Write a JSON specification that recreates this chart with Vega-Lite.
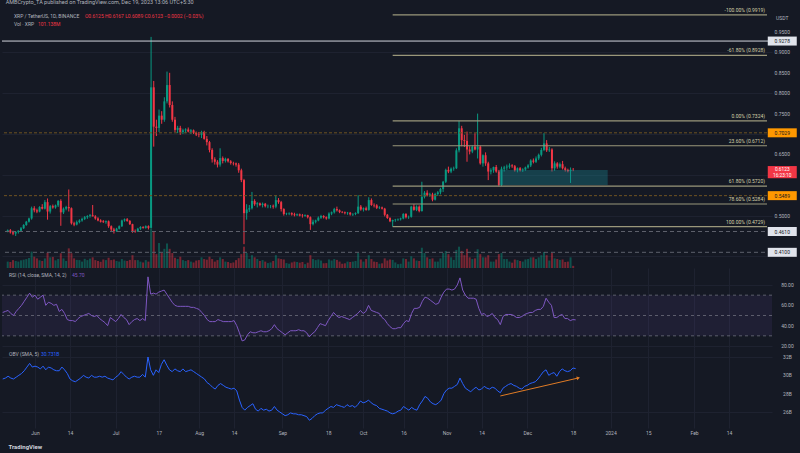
{
"$schema":"https://vega.github.io/schema/vega-lite/v6.json",
"background":"#151924",
"padding":{"left":0,"top":0,"right":0,"bottom":6},
"spacing":0,
"bounds":"flush",
"config":{"font":"Roboto","view":{"stroke":null},"title":{"fontSize":5.5,"fontWeight":"normal","color":"#b2b5be","anchor":"start","offset":2,"dx":5},"axis":{"labelOverlap":false}},
"title":{"text":"AMBCrypto_TA published on TradingView.com, Dec 19, 2023 13:06 UTC+5:30"},
"datasets":{
"px":[
{"d":"2023-05-20","o":0.462,"h":0.466,"l":0.459,"c":0.464,"v":300,"r":53,"b":29.6},
{"d":"2023-05-21","o":0.464,"h":0.467,"l":0.456,"c":0.459,"v":280,"r":54,"b":29.7},
{"d":"2023-05-22","o":0.459,"h":0.463,"l":0.452,"c":0.456,"v":370,"r":55,"b":29.9},
{"d":"2023-05-23","o":0.456,"h":0.462,"l":0.45,"c":0.46,"v":330,"r":52,"b":29.7},
{"d":"2023-05-24","o":0.46,"h":0.464,"l":0.456,"c":0.463,"v":300,"r":50,"b":29.6},
{"d":"2023-05-25","o":0.463,"h":0.472,"l":0.461,"c":0.469,"v":360,"r":54,"b":29.8},
{"d":"2023-05-26","o":0.469,"h":0.479,"l":0.467,"c":0.477,"v":390,"r":57,"b":30.0},
{"d":"2023-05-27","o":0.477,"h":0.487,"l":0.475,"c":0.485,"v":420,"r":60,"b":30.2},
{"d":"2023-05-28","o":0.485,"h":0.495,"l":0.483,"c":0.493,"v":470,"r":64,"b":30.5},
{"d":"2023-05-29","o":0.493,"h":0.522,"l":0.49,"c":0.518,"v":770,"r":68,"b":30.9},
{"d":"2023-05-30","o":0.518,"h":0.523,"l":0.508,"c":0.513,"v":530,"r":72,"b":31.3},
{"d":"2023-05-31","o":0.513,"h":0.517,"l":0.506,"c":0.51,"v":450,"r":68,"b":30.9},
{"d":"2023-06-01","o":0.51,"h":0.523,"l":0.508,"c":0.521,"v":360,"r":70,"b":31.0},
{"d":"2023-06-02","o":0.521,"h":0.528,"l":0.515,"c":0.517,"v":330,"r":66,"b":30.9},
{"d":"2023-06-03","o":0.517,"h":0.538,"l":0.515,"c":0.533,"v":450,"r":68,"b":30.7},
{"d":"2023-06-04","o":0.533,"h":0.542,"l":0.49,"c":0.51,"v":720,"r":70,"b":31.0},
{"d":"2023-06-05","o":0.51,"h":0.526,"l":0.505,"c":0.523,"v":500,"r":60,"b":30.6},
{"d":"2023-06-06","o":0.523,"h":0.527,"l":0.517,"c":0.52,"v":520,"r":63,"b":30.9},
{"d":"2023-06-07","o":0.52,"h":0.527,"l":0.517,"c":0.525,"v":360,"r":62,"b":30.8},
{"d":"2023-06-08","o":0.525,"h":0.538,"l":0.521,"c":0.536,"v":420,"r":60,"b":30.6},
{"d":"2023-06-09","o":0.536,"h":0.54,"l":0.475,"c":0.508,"v":690,"r":61,"b":30.5},
{"d":"2023-06-10","o":0.508,"h":0.52,"l":0.504,"c":0.517,"v":450,"r":54,"b":30.5},
{"d":"2023-06-11","o":0.517,"h":0.524,"l":0.513,"c":0.521,"v":330,"r":56,"b":30.9},
{"d":"2023-06-12","o":0.521,"h":0.564,"l":0.51,"c":0.518,"v":920,"r":52,"b":30.6},
{"d":"2023-06-13","o":0.518,"h":0.52,"l":0.478,"c":0.481,"v":690,"r":46,"b":30.2},
{"d":"2023-06-14","o":0.481,"h":0.485,"l":0.474,"c":0.478,"v":450,"r":45,"b":29.6},
{"d":"2023-06-15","o":0.478,"h":0.488,"l":0.476,"c":0.484,"v":380,"r":45,"b":29.4},
{"d":"2023-06-16","o":0.484,"h":0.491,"l":0.481,"c":0.488,"v":370,"r":44,"b":29.3},
{"d":"2023-06-17","o":0.488,"h":0.495,"l":0.485,"c":0.492,"v":300,"r":47,"b":29.5},
{"d":"2023-06-18","o":0.492,"h":0.499,"l":0.489,"c":0.496,"v":430,"r":49,"b":29.7},
{"d":"2023-06-19","o":0.496,"h":0.501,"l":0.492,"c":0.499,"v":370,"r":50,"b":30.0},
{"d":"2023-06-20","o":0.499,"h":0.504,"l":0.495,"c":0.501,"v":440,"r":51,"b":29.8},
{"d":"2023-06-21","o":0.501,"h":0.526,"l":0.498,"c":0.498,"v":500,"r":52,"b":29.7},
{"d":"2023-06-22","o":0.498,"h":0.501,"l":0.49,"c":0.493,"v":370,"r":50,"b":30.0},
{"d":"2023-06-23","o":0.493,"h":0.496,"l":0.486,"c":0.488,"v":330,"r":49,"b":29.8},
{"d":"2023-06-24","o":0.488,"h":0.491,"l":0.483,"c":0.485,"v":290,"r":50,"b":29.8},
{"d":"2023-06-25","o":0.486,"h":0.489,"l":0.482,"c":0.484,"v":400,"r":47,"b":29.9},
{"d":"2023-06-26","o":0.484,"h":0.488,"l":0.48,"c":0.486,"v":370,"r":45,"b":29.8},
{"d":"2023-06-27","o":0.486,"h":0.488,"l":0.47,"c":0.474,"v":480,"r":43,"b":29.9},
{"d":"2023-06-28","o":0.474,"h":0.476,"l":0.462,"c":0.466,"v":370,"r":40,"b":29.7},
{"d":"2023-06-29","o":0.466,"h":0.47,"l":0.456,"c":0.462,"v":400,"r":48,"b":29.6},
{"d":"2023-06-30","o":0.462,"h":0.47,"l":0.46,"c":0.468,"v":330,"r":46,"b":29.5},
{"d":"2023-07-01","o":0.468,"h":0.476,"l":0.466,"c":0.474,"v":300,"r":44,"b":29.8},
{"d":"2023-07-02","o":0.474,"h":0.49,"l":0.472,"c":0.488,"v":420,"r":47,"b":30.0},
{"d":"2023-07-03","o":0.488,"h":0.493,"l":0.485,"c":0.491,"v":350,"r":51,"b":30.4},
{"d":"2023-07-04","o":0.491,"h":0.494,"l":0.485,"c":0.487,"v":330,"r":48,"b":30.1},
{"d":"2023-07-05","o":0.487,"h":0.489,"l":0.477,"c":0.479,"v":380,"r":46,"b":29.8},
{"d":"2023-07-06","o":0.479,"h":0.48,"l":0.458,"c":0.462,"v":600,"r":41,"b":29.6},
{"d":"2023-07-07","o":0.462,"h":0.466,"l":0.458,"c":0.461,"v":370,"r":44,"b":29.8},
{"d":"2023-07-08","o":0.461,"h":0.47,"l":0.46,"c":0.468,"v":370,"r":46,"b":29.9},
{"d":"2023-07-09","o":0.468,"h":0.474,"l":0.465,"c":0.472,"v":300,"r":47,"b":29.8},
{"d":"2023-07-10","o":0.472,"h":0.474,"l":0.468,"c":0.47,"v":260,"r":45,"b":29.8},
{"d":"2023-07-11","o":0.47,"h":0.476,"l":0.468,"c":0.474,"v":370,"r":47,"b":30.1},
{"d":"2023-07-12","o":0.474,"h":0.476,"l":0.466,"c":0.47,"v":300,"r":45,"b":29.8},
{"d":"2023-07-13","o":0.47,"h":0.938,"l":0.468,"c":0.8144,"v":1830,"r":88,"b":32.0},
{"d":"2023-07-14","o":0.8144,"h":0.83,"l":0.669,"c":0.718,"v":1700,"r":71,"b":30.6},
{"d":"2023-07-15","o":0.718,"h":0.735,"l":0.695,"c":0.715,"v":650,"r":72,"b":30.0},
{"d":"2023-07-16","o":0.715,"h":0.76,"l":0.705,"c":0.745,"v":1170,"r":71,"b":30.6},
{"d":"2023-07-17","o":0.745,"h":0.756,"l":0.725,"c":0.735,"v":700,"r":73,"b":30.3},
{"d":"2023-07-18","o":0.735,"h":0.79,"l":0.73,"c":0.78,"v":900,"r":74,"b":31.2},
{"d":"2023-07-19","o":0.78,"h":0.853,"l":0.775,"c":0.82,"v":1150,"r":75,"b":31.7},
{"d":"2023-07-20","o":0.82,"h":0.85,"l":0.765,"c":0.771,"v":900,"r":71,"b":31.1},
{"d":"2023-07-21","o":0.771,"h":0.78,"l":0.73,"c":0.735,"v":700,"r":67,"b":30.6},
{"d":"2023-07-22","o":0.735,"h":0.742,"l":0.705,"c":0.71,"v":480,"r":63,"b":30.4},
{"d":"2023-07-23","o":0.71,"h":0.72,"l":0.702,"c":0.715,"v":420,"r":60,"b":30.7},
{"d":"2023-07-24","o":0.715,"h":0.72,"l":0.698,"c":0.705,"v":530,"r":59,"b":30.5},
{"d":"2023-07-25","o":0.705,"h":0.713,"l":0.7,"c":0.709,"v":370,"r":59,"b":30.4},
{"d":"2023-07-26","o":0.709,"h":0.714,"l":0.702,"c":0.711,"v":330,"r":59,"b":30.7},
{"d":"2023-07-27","o":0.711,"h":0.716,"l":0.704,"c":0.706,"v":370,"r":59,"b":30.4},
{"d":"2023-07-28","o":0.706,"h":0.712,"l":0.7,"c":0.709,"v":300,"r":59,"b":30.5},
{"d":"2023-07-29","o":0.709,"h":0.711,"l":0.7,"c":0.703,"v":260,"r":58,"b":30.6},
{"d":"2023-07-30","o":0.703,"h":0.706,"l":0.695,"c":0.699,"v":350,"r":58,"b":30.4},
{"d":"2023-07-31","o":0.699,"h":0.705,"l":0.692,"c":0.698,"v":370,"r":57,"b":30.2},
{"d":"2023-08-01","o":0.698,"h":0.708,"l":0.69,"c":0.705,"v":500,"r":56,"b":30.0},
{"d":"2023-08-02","o":0.705,"h":0.708,"l":0.686,"c":0.688,"v":420,"r":53,"b":29.8},
{"d":"2023-08-03","o":0.688,"h":0.695,"l":0.672,"c":0.68,"v":390,"r":50,"b":29.6},
{"d":"2023-08-04","o":0.68,"h":0.683,"l":0.655,"c":0.661,"v":530,"r":46,"b":29.2},
{"d":"2023-08-05","o":0.661,"h":0.665,"l":0.63,"c":0.638,"v":420,"r":44,"b":29.0},
{"d":"2023-08-06","o":0.638,"h":0.643,"l":0.625,"c":0.632,"v":300,"r":44,"b":28.7},
{"d":"2023-08-07","o":0.632,"h":0.636,"l":0.618,"c":0.625,"v":370,"r":44,"b":28.5},
{"d":"2023-08-08","o":0.625,"h":0.665,"l":0.62,"c":0.641,"v":500,"r":46,"b":28.9},
{"d":"2023-08-09","o":0.641,"h":0.645,"l":0.628,"c":0.634,"v":420,"r":45,"b":29.1},
{"d":"2023-08-10","o":0.634,"h":0.642,"l":0.63,"c":0.639,"v":300,"r":44,"b":28.9},
{"d":"2023-08-11","o":0.639,"h":0.641,"l":0.63,"c":0.633,"v":280,"r":44,"b":28.7},
{"d":"2023-08-12","o":0.633,"h":0.636,"l":0.625,"c":0.629,"v":230,"r":44,"b":28.6},
{"d":"2023-08-13","o":0.629,"h":0.632,"l":0.623,"c":0.628,"v":260,"r":44,"b":28.5},
{"d":"2023-08-14","o":0.628,"h":0.63,"l":0.62,"c":0.625,"v":370,"r":45,"b":28.6},
{"d":"2023-08-15","o":0.625,"h":0.629,"l":0.605,"c":0.611,"v":460,"r":40,"b":28.3},
{"d":"2023-08-16","o":0.611,"h":0.615,"l":0.582,"c":0.587,"v":650,"r":33,"b":27.3},
{"d":"2023-08-17","o":0.587,"h":0.59,"l":0.43,"c":0.506,"v":1000,"r":25,"b":26.5},
{"d":"2023-08-18","o":0.506,"h":0.528,"l":0.49,"c":0.515,"v":700,"r":26,"b":26.2},
{"d":"2023-08-19","o":0.515,"h":0.526,"l":0.509,"c":0.518,"v":420,"r":31,"b":26.5},
{"d":"2023-08-20","o":0.518,"h":0.558,"l":0.515,"c":0.536,"v":600,"r":34,"b":26.7},
{"d":"2023-08-21","o":0.536,"h":0.54,"l":0.524,"c":0.528,"v":500,"r":33,"b":26.9},
{"d":"2023-08-22","o":0.528,"h":0.533,"l":0.52,"c":0.53,"v":420,"r":33,"b":26.3},
{"d":"2023-08-23","o":0.53,"h":0.532,"l":0.523,"c":0.526,"v":330,"r":34,"b":26.1},
{"d":"2023-08-24","o":0.526,"h":0.532,"l":0.52,"c":0.529,"v":370,"r":35,"b":26.4},
{"d":"2023-08-25","o":0.529,"h":0.531,"l":0.52,"c":0.523,"v":300,"r":34,"b":26.2},
{"d":"2023-08-26","o":0.523,"h":0.527,"l":0.518,"c":0.524,"v":230,"r":34,"b":26.3},
{"d":"2023-08-27","o":0.524,"h":0.526,"l":0.518,"c":0.524,"v":260,"r":35,"b":26.1},
{"d":"2023-08-28","o":0.524,"h":0.527,"l":0.517,"c":0.522,"v":330,"r":37,"b":26.2},
{"d":"2023-08-29","o":0.522,"h":0.55,"l":0.518,"c":0.538,"v":600,"r":41,"b":26.6},
{"d":"2023-08-30","o":0.538,"h":0.543,"l":0.529,"c":0.533,"v":450,"r":37,"b":26.2},
{"d":"2023-08-31","o":0.533,"h":0.536,"l":0.51,"c":0.516,"v":420,"r":35,"b":26.0},
{"d":"2023-09-01","o":0.516,"h":0.518,"l":0.5,"c":0.504,"v":400,"r":33,"b":25.8},
{"d":"2023-09-02","o":0.504,"h":0.507,"l":0.501,"c":0.505,"v":230,"r":31,"b":25.6},
{"d":"2023-09-03","o":0.505,"h":0.508,"l":0.501,"c":0.506,"v":200,"r":33,"b":25.7},
{"d":"2023-09-04","o":0.506,"h":0.508,"l":0.5,"c":0.503,"v":260,"r":35,"b":25.9},
{"d":"2023-09-05","o":0.503,"h":0.507,"l":0.498,"c":0.501,"v":300,"r":35,"b":25.8},
{"d":"2023-09-06","o":0.501,"h":0.505,"l":0.499,"c":0.503,"v":280,"r":35,"b":25.8},
{"d":"2023-09-07","o":0.503,"h":0.505,"l":0.498,"c":0.5,"v":250,"r":36,"b":25.7},
{"d":"2023-09-08","o":0.5,"h":0.504,"l":0.495,"c":0.499,"v":280,"r":35,"b":25.7},
{"d":"2023-09-09","o":0.499,"h":0.503,"l":0.497,"c":0.501,"v":180,"r":35,"b":25.6},
{"d":"2023-09-10","o":0.501,"h":0.502,"l":0.493,"c":0.496,"v":250,"r":33,"b":25.5},
{"d":"2023-09-11","o":0.496,"h":0.498,"l":0.465,"c":0.479,"v":600,"r":29,"b":25.1},
{"d":"2023-09-12","o":0.479,"h":0.49,"l":0.476,"c":0.485,"v":420,"r":32,"b":25.3},
{"d":"2023-09-13","o":0.485,"h":0.49,"l":0.481,"c":0.488,"v":370,"r":34,"b":25.6},
{"d":"2023-09-14","o":0.488,"h":0.498,"l":0.486,"c":0.495,"v":400,"r":38,"b":25.8},
{"d":"2023-09-15","o":0.495,"h":0.502,"l":0.492,"c":0.499,"v":350,"r":42,"b":25.9},
{"d":"2023-09-16","o":0.499,"h":0.501,"l":0.493,"c":0.496,"v":220,"r":41,"b":25.9},
{"d":"2023-09-17","o":0.496,"h":0.498,"l":0.49,"c":0.493,"v":230,"r":40,"b":26.2},
{"d":"2023-09-18","o":0.493,"h":0.508,"l":0.491,"c":0.505,"v":400,"r":45,"b":26.4},
{"d":"2023-09-19","o":0.505,"h":0.51,"l":0.501,"c":0.508,"v":350,"r":49,"b":26.6},
{"d":"2023-09-20","o":0.508,"h":0.519,"l":0.505,"c":0.516,"v":420,"r":53,"b":26.5},
{"d":"2023-09-21","o":0.516,"h":0.522,"l":0.51,"c":0.513,"v":380,"r":50,"b":26.8},
{"d":"2023-09-22","o":0.513,"h":0.515,"l":0.506,"c":0.509,"v":300,"r":48,"b":26.7},
{"d":"2023-09-23","o":0.509,"h":0.511,"l":0.506,"c":0.508,"v":200,"r":49,"b":26.6},
{"d":"2023-09-24","o":0.508,"h":0.51,"l":0.503,"c":0.506,"v":220,"r":48,"b":26.5},
{"d":"2023-09-25","o":0.506,"h":0.509,"l":0.502,"c":0.507,"v":300,"r":47,"b":26.8},
{"d":"2023-09-26","o":0.507,"h":0.509,"l":0.5,"c":0.503,"v":280,"r":46,"b":26.6},
{"d":"2023-09-27","o":0.503,"h":0.506,"l":0.499,"c":0.504,"v":300,"r":48,"b":26.7},
{"d":"2023-09-28","o":0.504,"h":0.508,"l":0.501,"c":0.506,"v":330,"r":50,"b":26.5},
{"d":"2023-09-29","o":0.506,"h":0.55,"l":0.504,"c":0.522,"v":700,"r":52,"b":26.8},
{"d":"2023-09-30","o":0.522,"h":0.526,"l":0.512,"c":0.515,"v":400,"r":55,"b":27.2},
{"d":"2023-10-01","o":0.515,"h":0.52,"l":0.51,"c":0.518,"v":300,"r":52,"b":27.0},
{"d":"2023-10-02","o":0.518,"h":0.522,"l":0.512,"c":0.514,"v":420,"r":54,"b":27.1},
{"d":"2023-10-03","o":0.514,"h":0.545,"l":0.512,"c":0.538,"v":600,"r":60,"b":27.3},
{"d":"2023-10-04","o":0.538,"h":0.542,"l":0.524,"c":0.526,"v":420,"r":55,"b":27.0},
{"d":"2023-10-05","o":0.526,"h":0.53,"l":0.52,"c":0.525,"v":300,"r":54,"b":26.8},
{"d":"2023-10-06","o":0.525,"h":0.528,"l":0.516,"c":0.519,"v":280,"r":53,"b":26.7},
{"d":"2023-10-07","o":0.519,"h":0.523,"l":0.516,"c":0.52,"v":200,"r":52,"b":26.4},
{"d":"2023-10-08","o":0.52,"h":0.522,"l":0.515,"c":0.517,"v":220,"r":48,"b":26.3},
{"d":"2023-10-09","o":0.517,"h":0.519,"l":0.498,"c":0.502,"v":450,"r":46,"b":26.2},
{"d":"2023-10-10","o":0.502,"h":0.504,"l":0.492,"c":0.494,"v":350,"r":42,"b":26.1},
{"d":"2023-10-11","o":0.494,"h":0.496,"l":0.484,"c":0.486,"v":400,"r":39,"b":25.9},
{"d":"2023-10-12","o":0.486,"h":0.49,"l":0.4729,"c":0.489,"v":380,"r":37,"b":25.8},
{"d":"2023-10-13","o":0.489,"h":0.492,"l":0.485,"c":0.49,"v":260,"r":37,"b":25.9},
{"d":"2023-10-14","o":0.49,"h":0.493,"l":0.487,"c":0.491,"v":180,"r":38,"b":26.1},
{"d":"2023-10-15","o":0.491,"h":0.495,"l":0.488,"c":0.493,"v":200,"r":38,"b":26.2},
{"d":"2023-10-16","o":0.493,"h":0.506,"l":0.491,"c":0.504,"v":450,"r":42,"b":26.6},
{"d":"2023-10-17","o":0.504,"h":0.506,"l":0.493,"c":0.496,"v":420,"r":45,"b":26.4},
{"d":"2023-10-18","o":0.496,"h":0.5,"l":0.492,"c":0.497,"v":300,"r":44,"b":26.2},
{"d":"2023-10-19","o":0.497,"h":0.524,"l":0.495,"c":0.522,"v":550,"r":52,"b":26.5},
{"d":"2023-10-20","o":0.522,"h":0.528,"l":0.512,"c":0.514,"v":450,"r":57,"b":26.3},
{"d":"2023-10-21","o":0.514,"h":0.525,"l":0.511,"c":0.522,"v":350,"r":57,"b":26.2},
{"d":"2023-10-22","o":0.522,"h":0.525,"l":0.508,"c":0.511,"v":330,"r":58,"b":26.8},
{"d":"2023-10-23","o":0.511,"h":0.583,"l":0.51,"c":0.546,"v":950,"r":64,"b":27.2},
{"d":"2023-10-24","o":0.546,"h":0.56,"l":0.542,"c":0.556,"v":700,"r":68,"b":27.7},
{"d":"2023-10-25","o":0.556,"h":0.562,"l":0.547,"c":0.55,"v":500,"r":67,"b":27.5},
{"d":"2023-10-26","o":0.55,"h":0.556,"l":0.546,"c":0.552,"v":420,"r":65,"b":27.1},
{"d":"2023-10-27","o":0.552,"h":0.556,"l":0.535,"c":0.539,"v":450,"r":63,"b":26.9},
{"d":"2023-10-28","o":0.539,"h":0.556,"l":0.537,"c":0.553,"v":300,"r":61,"b":26.8},
{"d":"2023-10-29","o":0.553,"h":0.56,"l":0.548,"c":0.557,"v":300,"r":62,"b":27.0},
{"d":"2023-10-30","o":0.557,"h":0.568,"l":0.552,"c":0.565,"v":450,"r":68,"b":27.3},
{"d":"2023-10-31","o":0.565,"h":0.585,"l":0.558,"c":0.583,"v":700,"r":73,"b":28.0},
{"d":"2023-11-01","o":0.583,"h":0.615,"l":0.58,"c":0.612,"v":800,"r":76,"b":28.4},
{"d":"2023-11-02","o":0.612,"h":0.62,"l":0.604,"c":0.608,"v":650,"r":76,"b":28.6},
{"d":"2023-11-03","o":0.608,"h":0.618,"l":0.604,"c":0.615,"v":500,"r":75,"b":28.6},
{"d":"2023-11-04","o":0.615,"h":0.62,"l":0.61,"c":0.616,"v":380,"r":76,"b":28.8},
{"d":"2023-11-05","o":0.616,"h":0.665,"l":0.614,"c":0.66,"v":850,"r":80,"b":29.0},
{"d":"2023-11-06","o":0.66,"h":0.7324,"l":0.655,"c":0.714,"v":1000,"r":87,"b":29.7},
{"d":"2023-11-07","o":0.714,"h":0.72,"l":0.67,"c":0.685,"v":800,"r":75,"b":29.1},
{"d":"2023-11-08","o":0.685,"h":0.698,"l":0.668,"c":0.683,"v":600,"r":70,"b":28.6},
{"d":"2023-11-09","o":0.683,"h":0.706,"l":0.632,"c":0.662,"v":900,"r":67,"b":28.4},
{"d":"2023-11-10","o":0.662,"h":0.67,"l":0.65,"c":0.657,"v":500,"r":67,"b":28.2},
{"d":"2023-11-11","o":0.657,"h":0.672,"l":0.653,"c":0.669,"v":420,"r":67,"b":28.5},
{"d":"2023-11-12","o":0.669,"h":0.702,"l":0.66,"c":0.662,"v":450,"r":66,"b":28.7},
{"d":"2023-11-13","o":0.662,"h":0.75,"l":0.64,"c":0.669,"v":880,"r":57,"b":28.4},
{"d":"2023-11-14","o":0.669,"h":0.672,"l":0.625,"c":0.628,"v":650,"r":51,"b":28.5},
{"d":"2023-11-15","o":0.628,"h":0.65,"l":0.62,"c":0.648,"v":500,"r":52,"b":28.8},
{"d":"2023-11-16","o":0.648,"h":0.655,"l":0.622,"c":0.628,"v":500,"r":49,"b":28.6},
{"d":"2023-11-17","o":0.628,"h":0.632,"l":0.587,"c":0.608,"v":600,"r":50,"b":28.5},
{"d":"2023-11-18","o":0.608,"h":0.616,"l":0.601,"c":0.611,"v":300,"r":52,"b":28.7},
{"d":"2023-11-19","o":0.611,"h":0.62,"l":0.605,"c":0.619,"v":300,"r":48,"b":28.6},
{"d":"2023-11-20","o":0.619,"h":0.624,"l":0.605,"c":0.608,"v":400,"r":46,"b":28.3},
{"d":"2023-11-21","o":0.608,"h":0.612,"l":0.572,"c":0.575,"v":650,"r":41,"b":28.1},
{"d":"2023-11-22","o":0.575,"h":0.62,"l":0.572,"c":0.615,"v":700,"r":49,"b":28.6},
{"d":"2023-11-23","o":0.615,"h":0.622,"l":0.608,"c":0.618,"v":420,"r":51,"b":28.8},
{"d":"2023-11-24","o":0.618,"h":0.625,"l":0.612,"c":0.62,"v":420,"r":51,"b":29.0},
{"d":"2023-11-25","o":0.62,"h":0.628,"l":0.615,"c":0.623,"v":300,"r":51,"b":29.1},
{"d":"2023-11-26","o":0.623,"h":0.626,"l":0.617,"c":0.621,"v":250,"r":50,"b":28.9},
{"d":"2023-11-27","o":0.621,"h":0.624,"l":0.608,"c":0.611,"v":400,"r":48,"b":28.8},
{"d":"2023-11-28","o":0.611,"h":0.618,"l":0.606,"c":0.616,"v":370,"r":48,"b":28.6},
{"d":"2023-11-29","o":0.616,"h":0.619,"l":0.608,"c":0.611,"v":330,"r":49,"b":28.5},
{"d":"2023-11-30","o":0.611,"h":0.616,"l":0.607,"c":0.613,"v":300,"r":51,"b":28.8},
{"d":"2023-12-01","o":0.613,"h":0.62,"l":0.61,"c":0.618,"v":400,"r":52,"b":28.9},
{"d":"2023-12-02","o":0.618,"h":0.626,"l":0.615,"c":0.623,"v":420,"r":53,"b":29.1},
{"d":"2023-12-03","o":0.623,"h":0.638,"l":0.619,"c":0.635,"v":500,"r":53,"b":29.2},
{"d":"2023-12-04","o":0.635,"h":0.64,"l":0.628,"c":0.632,"v":500,"r":55,"b":29.3},
{"d":"2023-12-05","o":0.632,"h":0.645,"l":0.629,"c":0.64,"v":420,"r":56,"b":29.6},
{"d":"2023-12-06","o":0.64,"h":0.652,"l":0.636,"c":0.649,"v":500,"r":56,"b":30.0},
{"d":"2023-12-07","o":0.649,"h":0.666,"l":0.645,"c":0.661,"v":600,"r":59,"b":30.4},
{"d":"2023-12-08","o":0.661,"h":0.702,"l":0.658,"c":0.677,"v":750,"r":67,"b":30.6},
{"d":"2023-12-09","o":0.677,"h":0.685,"l":0.656,"c":0.66,"v":600,"r":63,"b":30.0},
{"d":"2023-12-10","o":0.66,"h":0.668,"l":0.656,"c":0.662,"v":350,"r":60,"b":30.2},
{"d":"2023-12-11","o":0.662,"h":0.665,"l":0.608,"c":0.616,"v":700,"r":48,"b":30.3},
{"d":"2023-12-12","o":0.616,"h":0.633,"l":0.61,"c":0.628,"v":450,"r":48,"b":29.9},
{"d":"2023-12-13","o":0.628,"h":0.631,"l":0.615,"c":0.62,"v":420,"r":50,"b":30.4},
{"d":"2023-12-14","o":0.62,"h":0.63,"l":0.616,"c":0.626,"v":380,"r":51,"b":30.7},
{"d":"2023-12-15","o":0.626,"h":0.634,"l":0.613,"c":0.616,"v":400,"r":47,"b":30.5},
{"d":"2023-12-16","o":0.616,"h":0.62,"l":0.608,"c":0.612,"v":280,"r":47,"b":30.4},
{"d":"2023-12-17","o":0.612,"h":0.615,"l":0.606,"c":0.609,"v":300,"r":45,"b":30.5},
{"d":"2023-12-18","o":0.609,"h":0.618,"l":0.58,"c":0.6125,"v":500,"r":46,"b":30.8},
{"d":"2023-12-19","o":0.6125,"h":0.6167,"l":0.6089,"c":0.6123,"v":101,"r":45.7,"b":30.73}
],
"lv":[{"p":0.9278,"k":"w"},{"p":0.7029,"k":"o"},{"p":0.5489,"k":"o"},{"p":0.461,"k":"g"},{"p":0.41,"k":"g"}],
"fib":[{"p":0.9919,"t":"-100.00% (0.9919)"},{"p":0.8928,"t":"-61.80% (0.8928)"},{"p":0.7324,"t":"0.00% (0.7324)"},{"p":0.6712,"t":"23.60% (0.6712)"},{"p":0.572,"t":"61.80% (0.5720)"},{"p":0.5284,"t":"78.60% (0.5284)"},{"p":0.4729,"t":"100.00% (0.4729)"}],
"tags":[{"p":0.9278,"t":"0.9278","k":"w"},{"p":0.7029,"t":"0.7029","k":"o"},{"p":0.5489,"t":"0.5489","k":"o"},{"p":0.461,"t":"0.4610","k":"w"},{"p":0.41,"t":"0.4100","k":"w"}],
"pticks":[{"p":0.95,"t":"0.9500"},{"p":0.9,"t":"0.9000"},{"p":0.85,"t":"0.8500"},{"p":0.8,"t":"0.8000"},{"p":0.75,"t":"0.7500"},{"p":0.65,"t":"0.6500"},{"p":0.5,"t":"0.5000"}],
"rticks":[{"r":80,"t":"80.00"},{"r":60,"t":"60.00"},{"r":40,"t":"40.00"},{"r":20,"t":"20.00"}],
"bticks":[{"b":32,"t":"32B"},{"b":30,"t":"30B"},{"b":28,"t":"28B"},{"b":26,"t":"26B"}],
"box":[{"a":"2023-11-21","z":"2024-01-01","lo":0.575,"hi":0.612}],
"band":[{"lo":30,"hi":70}],
"rl":[{"r":70},{"r":50},{"r":30}],
"trend":[{"d":"2023-11-21","b":27.75},{"d":"2023-12-20","b":29.71}]
},
"vconcat":[
{
"width":770,"height":256,
"layer":[
{"data":{"name":"px"},"mark":{"type":"bar","size":2,"opacity":0.45},
 "encoding":{
  "x":{"field":"d","type":"temporal","scale":{"type":"utc","domain":[{"year":2023,"month":5,"date":19,"hours":17,"minutes":30,"utc":true},{"year":2024,"month":3,"date":1,"utc":true}]},"axis":null},
  "y":{"field":"v","type":"quantitative","scale":{"domain":[0,12000],"nice":false},"axis":null},
  "color":{"condition":{"test":"datum.c >= datum.o","value":"#089981"},"value":"#f23645"}}},
{"layer":[
 {"data":{"name":"px"},"mark":{"type":"rule","strokeWidth":1},
  "encoding":{
   "x":{"field":"d","type":"temporal","scale":{"type":"utc","domain":[{"year":2023,"month":5,"date":19,"hours":17,"minutes":30,"utc":true},{"year":2024,"month":3,"date":1,"utc":true}]},
     "axis":{"values":[{"year":2023,"month":6,"date":1,"utc":true},{"year":2023,"month":6,"date":14,"utc":true},{"year":2023,"month":7,"date":1,"utc":true},{"year":2023,"month":7,"date":17,"utc":true},{"year":2023,"month":8,"date":1,"utc":true},{"year":2023,"month":8,"date":14,"utc":true},{"year":2023,"month":9,"date":1,"utc":true},{"year":2023,"month":9,"date":18,"utc":true},{"year":2023,"month":10,"date":1,"utc":true},{"year":2023,"month":10,"date":16,"utc":true},{"year":2023,"month":11,"date":1,"utc":true},{"year":2023,"month":11,"date":14,"utc":true},{"year":2023,"month":12,"date":1,"utc":true},{"year":2023,"month":12,"date":18,"utc":true},{"year":2024,"month":1,"date":1,"utc":true},{"year":2024,"month":1,"date":15,"utc":true},{"year":2024,"month":2,"date":1,"utc":true},{"year":2024,"month":2,"date":14,"utc":true}],
      "labels":false,"ticks":false,"domain":false,"title":null,"grid":true,"gridColor":"#1e2230","maxExtent":0,"minExtent":0}},
   "y":{"field":"l","type":"quantitative","scale":{"domain":[0.37157,0.99902],"nice":false,"zero":false},
     "axis":{"orient":"right","values":[0.4,0.45,0.5,0.55,0.6,0.65,0.7,0.75,0.8,0.85,0.9,0.95],"labels":false,"title":null,"ticks":false,"domain":false,"grid":true,"gridColor":"#1e2230","minExtent":30,"maxExtent":30}},
   "y2":{"field":"h"},
   "color":{"condition":{"test":"datum.c >= datum.o","value":"#089981"},"value":"#f23645"}}},
 {"data":{"name":"px"},"mark":{"type":"bar","size":2},
  "encoding":{"x":{"field":"d","type":"temporal"},"y":{"field":"o","type":"quantitative"},"y2":{"field":"c"},
   "color":{"condition":{"test":"datum.c >= datum.o","value":"#089981"},"value":"#f23645"}}},
 {"data":{"name":"lv"},"transform":[{"filter":"datum.k == 'w'"}],"mark":{"type":"rule","color":"#d1d4dc","strokeWidth":1},
  "encoding":{"y":{"field":"p","type":"quantitative"}}},
 {"data":{"name":"lv"},"transform":[{"filter":"datum.k == 'o'"}],"mark":{"type":"rule","color":"#6e5322","strokeWidth":1,"strokeDash":[3,2]},
  "encoding":{"y":{"field":"p","type":"quantitative"}}},
 {"data":{"name":"lv"},"transform":[{"filter":"datum.k == 'g'"}],"mark":{"type":"rule","color":"#5d606b","strokeWidth":1,"strokeDash":[4,3]},
  "encoding":{"y":{"field":"p","type":"quantitative"}}},
 {"data":{"name":"box"},"mark":{"type":"rect","color":"#1b8a94","opacity":0.35},
  "encoding":{"x":{"field":"a","type":"temporal"},"x2":{"field":"z"},"y":{"field":"lo","type":"quantitative"},"y2":{"field":"hi"}}},
 {"data":{"name":"fib"},"mark":{"type":"rule","color":"#9a977a","strokeWidth":1.2},
  "encoding":{"x":{"datum":{"year":2023,"month":10,"date":12,"utc":true},"type":"temporal"},"x2":{"datum":{"year":2024,"month":3,"date":1,"utc":true}},"y":{"field":"p","type":"quantitative"}}},
 {"data":{"name":"fib"},"mark":{"type":"text","align":"right","baseline":"bottom","dy":-2,"dx":-2,"fontSize":5,"color":"#d4d1a8","clip":false},
  "encoding":{"x":{"datum":{"year":2024,"month":3,"date":1,"utc":true},"type":"temporal"},"y":{"field":"p","type":"quantitative"},"text":{"field":"t"}}},
 {"data":{"name":"pticks"},"mark":{"type":"text","align":"center","baseline":"middle","fontSize":5,"color":"#b2b5be","clip":false},
  "encoding":{"x":{"datum":{"year":2024,"month":3,"date":6,"hours":18,"utc":true},"type":"temporal"},"y":{"field":"p","type":"quantitative"},"text":{"field":"t"}}},
 {"data":{"name":"tags"},"mark":{"type":"point","shape":"M-1,-0.31H1V0.31H-1Z","size":841,"filled":true,"opacity":1,"clip":false},
  "encoding":{"x":{"datum":{"year":2024,"month":3,"date":6,"hours":18,"utc":true},"type":"temporal"},"y":{"field":"p","type":"quantitative"},
   "color":{"field":"k","type":"nominal","scale":{"domain":["w","o"],"range":["#e0e3eb","#ff9800"]},"legend":null}}},
 {"data":{"name":"tags"},"mark":{"type":"text","align":"center","baseline":"middle","fontSize":5,"color":"#131722","clip":false},
  "encoding":{"x":{"datum":{"year":2024,"month":3,"date":6,"hours":18,"utc":true},"type":"temporal"},"y":{"field":"p","type":"quantitative"},"text":{"field":"t"}}},
 {"data":{"values":[{"p":0.6065}]},"mark":{"type":"point","shape":"M-1,-0.42H1V0.42H-1Z","size":841,"filled":true,"opacity":1,"color":"#f23645","clip":false},
  "encoding":{"x":{"datum":{"year":2024,"month":3,"date":6,"hours":18,"utc":true},"type":"temporal"},"y":{"field":"p","type":"quantitative"}}},
 {"data":{"values":[{"p":0.6125,"t":"0.6123"},{"p":0.5975,"t":"16:23:10"}]},"mark":{"type":"text","align":"center","baseline":"middle","fontSize":4.8,"color":"#ffffff","clip":false},
  "encoding":{"x":{"datum":{"year":2024,"month":3,"date":6,"hours":18,"utc":true},"type":"temporal"},"y":{"field":"p","type":"quantitative"},"text":{"field":"t"}}},
 {"data":{"values":[{"p":0.9843,"t":"USDT"}]},"mark":{"type":"text","align":"center","baseline":"middle","fontSize":5,"color":"#b2b5be","clip":false},
  "encoding":{"x":{"datum":{"year":2024,"month":3,"date":6,"hours":18,"utc":true},"type":"temporal"},"y":{"field":"p","type":"quantitative"},"text":{"field":"t"}}},
 {"data":{"values":[{"p":0.9892,"t":"XRP / TetherUS, 1D, BINANCE"},{"p":0.9696,"t":"Vol · XRP"}]},"mark":{"type":"text","align":"left","baseline":"middle","fontSize":5,"color":"#b2b5be"},
  "encoding":{"x":{"datum":{"year":2023,"month":5,"date":22,"hours":8,"utc":true},"type":"temporal"},"y":{"field":"p","type":"quantitative"},"text":{"field":"t"}}},
 {"data":{"values":[{"p":0.9892,"t":"O0.6125  H0.6167  L0.6089  C0.6123  −0.0002 (−0.03%)"}]},"mark":{"type":"text","align":"left","baseline":"middle","fontSize":5,"color":"#f23645","dx":71},
  "encoding":{"x":{"datum":{"year":2023,"month":5,"date":22,"hours":8,"utc":true},"type":"temporal"},"y":{"field":"p","type":"quantitative"},"text":{"field":"t"}}},
 {"data":{"values":[{"p":0.9696,"t":"101.138M"}]},"mark":{"type":"text","align":"left","baseline":"middle","fontSize":5,"color":"#f23645","dx":24},
  "encoding":{"x":{"datum":{"year":2023,"month":5,"date":22,"hours":8,"utc":true},"type":"temporal"},"y":{"field":"p","type":"quantitative"},"text":{"field":"t"}}}
]}
],
"resolve":{"scale":{"y":"independent"}}
},
{
"width":770,"height":80,
"layer":[
 {"data":{"name":"band"},"mark":{"type":"rect","color":"#7e57c2","opacity":0.1},
  "encoding":{"y":{"field":"lo","type":"quantitative","scale":{"domain":[18.03,96.72],"nice":false,"zero":false},
     "axis":{"orient":"right","values":[20,40,60,80],"labels":false,"title":null,"ticks":false,"domain":false,"grid":true,"gridColor":"#1e2230","minExtent":30,"maxExtent":30}},"y2":{"field":"hi"}}},
 {"data":{"name":"rl"},"mark":{"type":"rule","color":"#787b86","strokeDash":[3,3],"opacity":0.7},
  "encoding":{"y":{"field":"r","type":"quantitative"}}},
 {"data":{"name":"px"},"mark":{"type":"line","color":"#7e57c2","strokeWidth":1},
  "encoding":{
   "x":{"field":"d","type":"temporal","scale":{"type":"utc","domain":[{"year":2023,"month":5,"date":19,"hours":17,"minutes":30,"utc":true},{"year":2024,"month":3,"date":1,"utc":true}]},
     "axis":{"values":[{"year":2023,"month":6,"date":1,"utc":true},{"year":2023,"month":6,"date":14,"utc":true},{"year":2023,"month":7,"date":1,"utc":true},{"year":2023,"month":7,"date":17,"utc":true},{"year":2023,"month":8,"date":1,"utc":true},{"year":2023,"month":8,"date":14,"utc":true},{"year":2023,"month":9,"date":1,"utc":true},{"year":2023,"month":9,"date":18,"utc":true},{"year":2023,"month":10,"date":1,"utc":true},{"year":2023,"month":10,"date":16,"utc":true},{"year":2023,"month":11,"date":1,"utc":true},{"year":2023,"month":11,"date":14,"utc":true},{"year":2023,"month":12,"date":1,"utc":true},{"year":2023,"month":12,"date":18,"utc":true},{"year":2024,"month":1,"date":1,"utc":true},{"year":2024,"month":1,"date":15,"utc":true},{"year":2024,"month":2,"date":1,"utc":true},{"year":2024,"month":2,"date":14,"utc":true}],
      "labels":false,"ticks":false,"domain":false,"title":null,"grid":true,"gridColor":"#1e2230","maxExtent":0,"minExtent":0}},
   "y":{"field":"r","type":"quantitative"}}},
 {"data":{"name":"rticks"},"mark":{"type":"text","align":"center","baseline":"middle","fontSize":5,"color":"#b2b5be","clip":false},
  "encoding":{"x":{"datum":{"year":2024,"month":3,"date":6,"hours":18,"utc":true},"type":"temporal"},"y":{"field":"r","type":"quantitative"},"text":{"field":"t"}}},
 {"data":{"values":[{"r":89.8,"t":"RSI (14, close, SMA, 14, 2)"}]},"mark":{"type":"text","align":"left","baseline":"middle","fontSize":5,"color":"#b2b5be"},
  "encoding":{"x":{"datum":{"year":2023,"month":5,"date":22,"hours":8,"utc":true},"type":"temporal"},"y":{"field":"r","type":"quantitative"},"text":{"field":"t"}}},
 {"data":{"values":[{"r":89.8,"t":"45.70"}]},"mark":{"type":"text","align":"left","baseline":"middle","fontSize":5,"color":"#7e57c2","dx":63},
  "encoding":{"x":{"datum":{"year":2023,"month":5,"date":22,"hours":8,"utc":true},"type":"temporal"},"y":{"field":"r","type":"quantitative"},"text":{"field":"t"}}}
]
},
{
"width":770,"height":80,
"layer":[
 {"data":{"name":"px"},"mark":{"type":"line","color":"#2962ff","strokeWidth":1},
  "encoding":{
   "x":{"field":"d","type":"temporal","scale":{"type":"utc","domain":[{"year":2023,"month":5,"date":19,"hours":17,"minutes":30,"utc":true},{"year":2024,"month":3,"date":1,"utc":true}]},
     "axis":{"values":[{"year":2023,"month":6,"date":1,"utc":true},{"year":2023,"month":6,"date":14,"utc":true},{"year":2023,"month":7,"date":1,"utc":true},{"year":2023,"month":7,"date":17,"utc":true},{"year":2023,"month":8,"date":1,"utc":true},{"year":2023,"month":8,"date":14,"utc":true},{"year":2023,"month":9,"date":1,"utc":true},{"year":2023,"month":9,"date":18,"utc":true},{"year":2023,"month":10,"date":1,"utc":true},{"year":2023,"month":10,"date":16,"utc":true},{"year":2023,"month":11,"date":1,"utc":true},{"year":2023,"month":11,"date":14,"utc":true},{"year":2023,"month":12,"date":1,"utc":true},{"year":2023,"month":12,"date":18,"utc":true},{"year":2024,"month":1,"date":1,"utc":true},{"year":2024,"month":1,"date":15,"utc":true},{"year":2024,"month":2,"date":1,"utc":true},{"year":2024,"month":2,"date":14,"utc":true}],
      "labelExpr":"utcdate(datum.value) == 1 ? (utcmonth(datum.value) == 0 ? utcFormat(datum.value, '%Y') : utcFormat(datum.value, '%b')) : utcFormat(datum.value, '%-d')",
      "labelFontSize":5,"labelColor":"#b2b5be","labelPadding":2,"labelOverlap":false,"ticks":false,"domain":false,"grid":true,"gridColor":"#1e2230",
      "title":"TradingView","titleFontSize":6,"titleFontWeight":"bold","titleColor":"#d1d4dc","titleAnchor":"start","titleAlign":"left","titleBaseline":"top","titleX":6,"titleY":15}},
   "y":{"field":"b","type":"quantitative","scale":{"domain":[24.255,32.98],"nice":false,"zero":false},
     "axis":{"orient":"right","values":[26,28,30,32],"labels":false,"title":null,"ticks":false,"domain":false,"grid":true,"gridColor":"#1e2230","minExtent":30,"maxExtent":30}}}},
 {"data":{"name":"trend"},"mark":{"type":"line","color":"#e07b24","strokeWidth":1},
  "encoding":{"x":{"field":"d","type":"temporal"},"y":{"field":"b","type":"quantitative"}}},
 {"data":{"values":[{"d":"2023-12-20","b":29.71}]},"mark":{"type":"point","shape":"triangle-right","size":14,"filled":true,"color":"#e07b24","opacity":1,"angle":-13},
  "encoding":{"x":{"field":"d","type":"temporal"},"y":{"field":"b","type":"quantitative"}}},
 {"data":{"name":"bticks"},"mark":{"type":"text","align":"center","baseline":"middle","fontSize":5,"color":"#b2b5be","clip":false},
  "encoding":{"x":{"datum":{"year":2024,"month":3,"date":6,"hours":18,"utc":true},"type":"temporal"},"y":{"field":"b","type":"quantitative"},"text":{"field":"t"}}},
 {"data":{"values":[{"b":32.33,"t":"OBV (SMA, 5)"}]},"mark":{"type":"text","align":"left","baseline":"middle","fontSize":5,"color":"#b2b5be"},
  "encoding":{"x":{"datum":{"year":2023,"month":5,"date":22,"hours":8,"utc":true},"type":"temporal"},"y":{"field":"b","type":"quantitative"},"text":{"field":"t"}}},
 {"data":{"values":[{"b":32.33,"t":"30.731B"}]},"mark":{"type":"text","align":"left","baseline":"middle","fontSize":5,"color":"#2962ff","dx":32},
  "encoding":{"x":{"datum":{"year":2023,"month":5,"date":22,"hours":8,"utc":true},"type":"temporal"},"y":{"field":"b","type":"quantitative"},"text":{"field":"t"}}}
]
}
]
}
